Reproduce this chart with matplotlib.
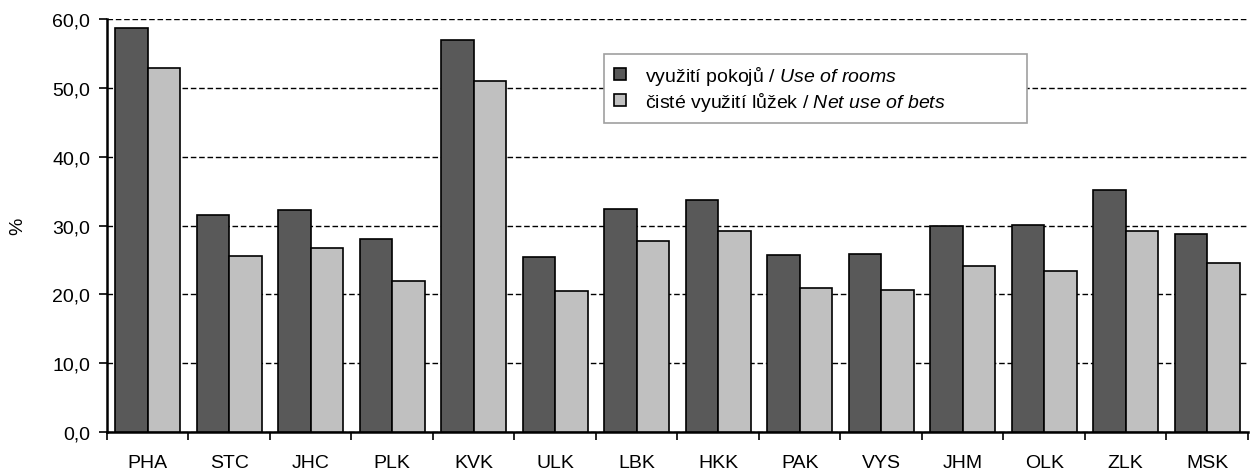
import numpy as np
import matplotlib
matplotlib.use("Agg")
import matplotlib.pyplot as plt

plt.rcParams['font.family'] = ['Liberation Sans', 'DejaVu Sans']
plt.rcParams['mathtext.fontset'] = 'custom'
plt.rcParams['mathtext.rm'] = 'Liberation Sans'
plt.rcParams['mathtext.it'] = 'Liberation Sans:italic'

regions = ["PHA", "STC", "JHC", "PLK", "KVK", "ULK", "LBK", "HKK",
           "PAK", "VYS", "JHM", "OLK", "ZLK", "MSK"]
rooms = [58.7, 31.6, 32.2, 28.0, 57.0, 25.4, 32.4, 33.7, 25.7, 25.9, 29.9, 30.1, 35.2, 28.8]
beds = [52.9, 25.6, 26.7, 22.0, 51.0, 20.5, 27.8, 29.2, 20.9, 20.6, 24.2, 23.4, 29.2, 24.5]
labels = ["využití pokojů / $\\it{Use\\ of\\ rooms}$",
          "čisté využití lůžek / $\\it{Net\\ use\\ of\\ bets}$"]

fs = 14

fig = plt.figure(figsize=(12.51, 4.77), dpi=100)
ax = fig.add_axes([0.0855, 0.092, 0.912, 0.866])

x = np.arange(len(regions))
w = 0.4
ax.bar(x - w / 2, rooms, w, color="#595959", edgecolor="black", linewidth=1.2, label=labels[0], zorder=3)
ax.bar(x + w / 2, beds, w, color="#c0c0c0", edgecolor="black", linewidth=1.2, label=labels[1], zorder=3)

ax.set_xlim(-0.5, len(regions) - 0.5)
ax.set_ylim(0, 60)
ax.set_yticks(np.arange(0, 61, 10))
ax.set_yticklabels([f"{v:.1f}".replace(".", ",") for v in range(0, 61, 10)], fontsize=fs)
ax.yaxis.grid(True, linestyle=(0, (4, 2)), color="black", linewidth=1.0, zorder=0)
ax.set_axisbelow(True)

ax.set_xticks(np.arange(-0.5, len(regions) - 0.4, 1))
ax.set_xticklabels([])
ax.tick_params(axis="x", which="major", length=6, width=1.2, direction="out")
ax.set_xticks(x, minor=True)
ax.set_xticklabels(regions, minor=True, fontsize=fs)
ax.tick_params(axis="x", which="minor", length=0, pad=16)
ax.tick_params(axis="y", length=6, width=1.2, direction="out", pad=6)

ax.set_ylabel("%", fontsize=fs, labelpad=19)

for s in ["top", "right"]:
    ax.spines[s].set_visible(False)
ax.spines["left"].set_linewidth(1.8)
ax.spines["bottom"].set_linewidth(1.8)

leg = ax.legend(loc="upper left", bbox_to_anchor=(0.436, 0.5, 0.37, 0.415), mode="expand",
                fontsize=fs, frameon=True, fancybox=False, edgecolor="#a0a0a0", framealpha=1,
                handlelength=0.6, handleheight=0.6, handletextpad=1.0, borderpad=0.5,
                labelspacing=0.15, borderaxespad=0)
leg.get_frame().set_linewidth(1.2)

fig.savefig("out.png", dpi=100)
